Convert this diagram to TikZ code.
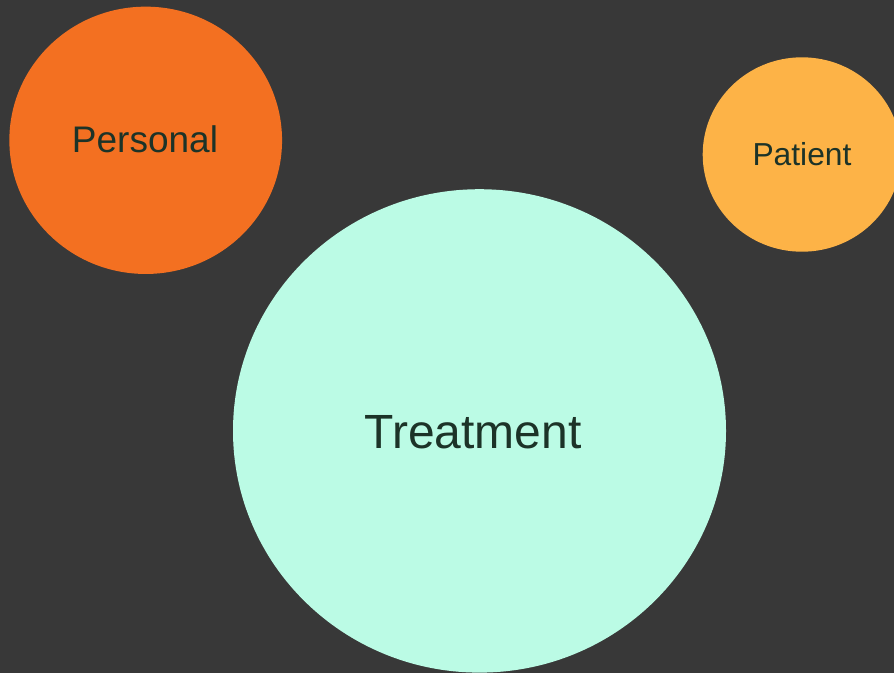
\documentclass[tikz,border=0pt]{standalone}
\usepackage{fontspec}
\setmainfont{Liberation Sans}
\usetikzlibrary{shapes.geometric}
\definecolor{bg}{HTML}{383838}
\definecolor{orangeC}{HTML}{F37021}
\definecolor{yellowC}{HTML}{FDB347}
\definecolor{mintC}{HTML}{BBFBE5}
\definecolor{txt}{HTML}{1C3328}
\tikzset{
  bubble/.style={ellipse, inner sep=0pt, draw=none},
  lbl/.style={text=txt, anchor=base, inner sep=0pt}
}
\begin{document}
\begin{tikzpicture}[x=1pt,y=-1pt]
\useasboundingbox (0,0) rectangle (894,673);
\clip (0,0) rectangle (894,673);
\fill[bg] (0,0) rectangle (894,673);
\node[bubble, fill=orangeC, minimum width=272.7pt, minimum height=267.3pt] (personal) at (145.7,140.3) {};
\node[bubble, fill=yellowC, minimum width=198.6pt, minimum height=194.4pt] (patient) at (802,154.5) {};
\node[bubble, fill=mintC, minimum width=493pt, minimum height=483.4pt] (treatment) at (479.5,430.9) {};
\node[lbl, font=\fontsize{37}{40}\selectfont] (tpersonal) at (145,152.7) {Personal};
\node[lbl, font=\fontsize{31.8}{34}\selectfont] (tpatient) at (802,165.7) {Patient};
\node[lbl, font=\fontsize{48}{52}\selectfont] (ttreatment) at (473,448.3) {Treatment};
\end{tikzpicture}
\end{document}
